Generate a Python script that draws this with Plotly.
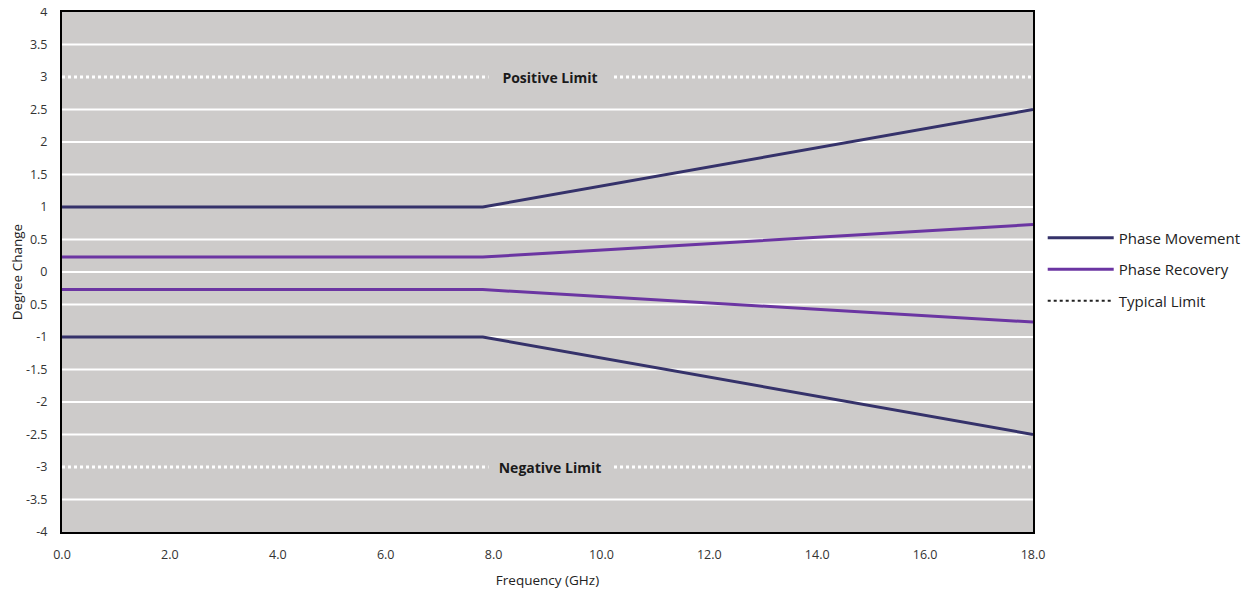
import plotly.graph_objects as go

# Data
freq = [0.0, 7.8, 18.0]
move_upper = [1.0, 1.0, 2.5]
move_lower = [-1.0, -1.0, -2.5]
recov_upper = [0.23, 0.23, 0.73]
recov_lower = [-0.27, -0.27, -0.77]
limit_x = [0.0, 18.0]
pos_limit = [3.0, 3.0]
neg_limit = [-3.0, -3.0]

y_tickvals = [4, 3.5, 3, 2.5, 2, 1.5, 1, 0.5, 0, -0.5, -1, -1.5, -2, -2.5, -3, -3.5, -4]
y_ticktext = ["4", "3.5", "3", "2.5", "2", "1.5", "1", "0.5", "0", "0.5", "-1", "-1.5", "-2", "-2.5", "-3", "-3.5", "-4"]
x_tickvals = [0, 2, 4, 6, 8, 10, 12, 14, 16, 18]
x_ticktext = ["0.0", "2.0", "4.0", "6.0", "8.0", "10.0", "12.0", "14.0", "16.0", "18.0"]
grid_vals = [v for v in y_tickvals if v not in (3, -3, 4, -4)]

MOVE = "#35326a"
RECOV = "#6b35a2"
BG = "#cdcbca"
FONT = "Open Sans"

fig = go.Figure()
fig.add_trace(go.Scatter(x=freq, y=move_upper, mode="lines", line=dict(color=MOVE, width=3),
                         name="Phase Movement", legendgroup="m"))
fig.add_trace(go.Scatter(x=freq, y=move_lower, mode="lines", line=dict(color=MOVE, width=3),
                         name="Phase Movement", legendgroup="m", showlegend=False))
fig.add_trace(go.Scatter(x=freq, y=recov_upper, mode="lines", line=dict(color=RECOV, width=3),
                         name="Phase Recovery", legendgroup="r"))
fig.add_trace(go.Scatter(x=freq, y=recov_lower, mode="lines", line=dict(color=RECOV, width=3),
                         name="Phase Recovery", legendgroup="r", showlegend=False))
fig.add_trace(go.Scatter(x=limit_x, y=pos_limit, mode="lines", line=dict(color="white", width=3, dash="dot"),
                         showlegend=False, hoverinfo="skip"))
fig.add_trace(go.Scatter(x=limit_x, y=neg_limit, mode="lines", line=dict(color="white", width=3, dash="dot"),
                         showlegend=False, hoverinfo="skip"))
fig.add_trace(go.Scatter(x=[None], y=[None], mode="lines", line=dict(color="#222222", width=2, dash="dot"),
                         name="Typical Limit", legendgroup="t"))

for g in grid_vals:
    fig.add_shape(type="line", xref="paper", x0=0, x1=1, yref="y", y0=g, y1=g,
                  line=dict(color="white", width=2), layer="below")

for txt, yv in (("Positive Limit", pos_limit[0]), ("Negative Limit", neg_limit[0])):
    fig.add_annotation(x=9.05, y=yv, text="<b>" + txt + "</b>", showarrow=False,
                       font=dict(family=FONT, size=14, color="#1a1a1a"),
                       bgcolor=BG, borderpad=3, xanchor="center", yanchor="middle",
                       width=116)

fig.update_layout(
    width=1244, height=581,
    margin=dict(l=54, r=219, t=4, b=57, autoexpand=False),
    paper_bgcolor="white", plot_bgcolor=BG,
    font=dict(family=FONT, size=12, color="#333333"),
    legend=dict(x=1.01, y=0.505, xanchor="left", yanchor="middle",
                font=dict(family=FONT, size=15, color="#222222"),
                tracegroupgap=9, itemwidth=66, bgcolor="rgba(0,0,0,0)"),
    xaxis=dict(range=[0, 18], tickvals=x_tickvals, ticktext=x_ticktext, showgrid=False,
               zeroline=False, showline=True, linecolor="black", linewidth=2, mirror=True,
               ticks="", ticklabelstandoff=10, automargin=False,
               title=dict(text="Frequency (GHz)", font=dict(size=13.5, color="#222222"), standoff=16),
               tickfont=dict(size=12.5, color="#333333")),
    yaxis=dict(range=[-4, 4], tickvals=y_tickvals, ticktext=y_ticktext, showgrid=False,
               zeroline=False, showline=True, linecolor="black", linewidth=2, mirror=True,
               ticks="", ticklabelstandoff=10, automargin=False, ticklabeloverflow="allow",
               title=dict(text="Degree Change", font=dict(size=13.5, color="#222222"), standoff=12),
               tickfont=dict(size=12.5, color="#333333")),
)

fig.write_html("out.html")
